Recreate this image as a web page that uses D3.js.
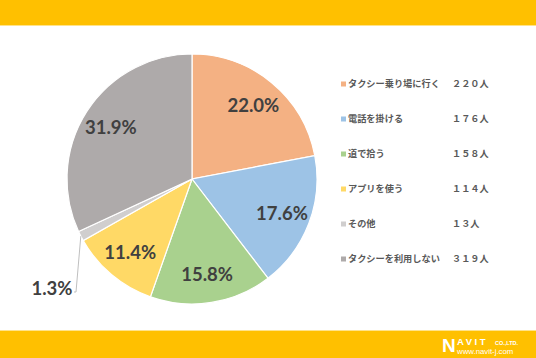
<!DOCTYPE html>
<html><head><meta charset="utf-8">
<script src="https://cdn.jsdelivr.net/npm/d3@7/dist/d3.min.js"></script>
<style>
html,body{margin:0;padding:0;background:#fff;}
svg{display:block;}
</style></head>
<body>
<svg id="c" width="536" height="358"></svg>
<script>
const categories = ["タクシー乗り場に行く","電話を掛ける","道で拾う","アプリを使う","その他","タクシーを利用しない"];
const values = [220,176,158,114,13,319];
const countLabels = ["２２０人","１７６人","１５８人","１１４人","１３人","３１９人"];
const pctLabels = ["22.0%","17.6%","15.8%","11.4%","1.3%","31.9%"];
const colors = ["#F4B183","#9DC3E6","#A9D18E","#FFD966","#D0CECE","#AEAAAA"];

const svg = d3.select("#c");
const W=536,H=358;
svg.append("rect").attr("width",W).attr("height",H).attr("fill","#fff");
// banners
svg.append("rect").attr("x",0).attr("y",0).attr("width",W).attr("height",25).attr("fill","#FFC000");
svg.append("rect").attr("x",0).attr("y",25).attr("width",W).attr("height",1).attr("fill","#FFE38A");
svg.append("rect").attr("x",0).attr("y",331).attr("width",W).attr("height",27).attr("fill","#FFC000");
svg.append("rect").attr("x",0).attr("y",330).attr("width",W).attr("height",1).attr("fill","#FFE38A");

// logo
const lg = svg.append("g").attr("fill","#fff").attr("font-family","Liberation Sans, Arial, sans-serif");
lg.append("text").attr("x",442).attr("y",352).attr("font-size",19).attr("font-weight","bold").text("N");
lg.append("text").attr("x",457).attr("y",344.5).attr("font-size",9.5).attr("font-weight","bold").attr("letter-spacing",2.5).text("AVIT");
lg.append("text").attr("x",495).attr("y",344.5).attr("font-size",5.5).attr("font-weight","bold").text("CO.,LTD.");
lg.append("text").attr("x",457).attr("y",353.5).attr("font-size",7.8).text("www.navit-j.com");

// pie
const cx=192, cy=179, R=125;
const pie = d3.pie().sort(null).value(d=>d)(values);
const arc = d3.arc().innerRadius(0).outerRadius(R);
const g = svg.append("g").attr("transform",`translate(${cx},${cy})`);
g.selectAll("path").data(pie).join("path")
  .attr("d",arc).attr("fill",(d,i)=>colors[i])
  .attr("stroke","#fff").attr("stroke-width",1.2);

const labelArc = d3.arc().innerRadius(R*0.77).outerRadius(R*0.77);
const lblFont = "Lato, 'Open Sans', sans-serif";
g.selectAll("text.p").data(pie).join("text").attr("class","p")
  .attr("transform",(d,i)=>{
    if(i===4) return `translate(${52-cx},${288-cy})`;
    const c=labelArc.centroid(d); return `translate(${c[0]},${c[1]})`;
  })
  .attr("dy","0.36em")
  .attr("text-anchor","middle")
  .attr("font-family",lblFont).attr("font-weight","bold").attr("font-size",18.5)
  .attr("fill","#404040")
  .text((d,i)=>pctLabels[i]);

// leader line for small slice
const small = pie[4];
const mid = (small.startAngle+small.endAngle)/2;
const p0 = [Math.sin(mid)*R, -Math.cos(mid)*R];
g.append("polyline")
  .attr("points",`${p0[0]},${p0[1]} ${76-cx},${292-cy} ${74-cx},${292-cy}`)
  .attr("fill","none").attr("stroke","#BFBFBF").attr("stroke-width",1);

// legend
const lgY0=84, lgDy=35;
const leg = svg.append("g").attr("font-family","'Noto Sans CJK JP', sans-serif").attr("font-size",9.2).attr("fill","#595959").attr("font-weight","bold");
categories.forEach((c,i)=>{
  const y=lgY0+i*lgDy;
  leg.append("rect").attr("x",341).attr("y",y-2.5).attr("width",5).attr("height",5).attr("fill",colors[i]);
  leg.append("text").attr("x",348).attr("y",y+3.3).text(c);
  leg.append("text").attr("x",452).attr("y",y+3.3).attr("letter-spacing",0).text(countLabels[i]);
});
</script>
</body></html>
